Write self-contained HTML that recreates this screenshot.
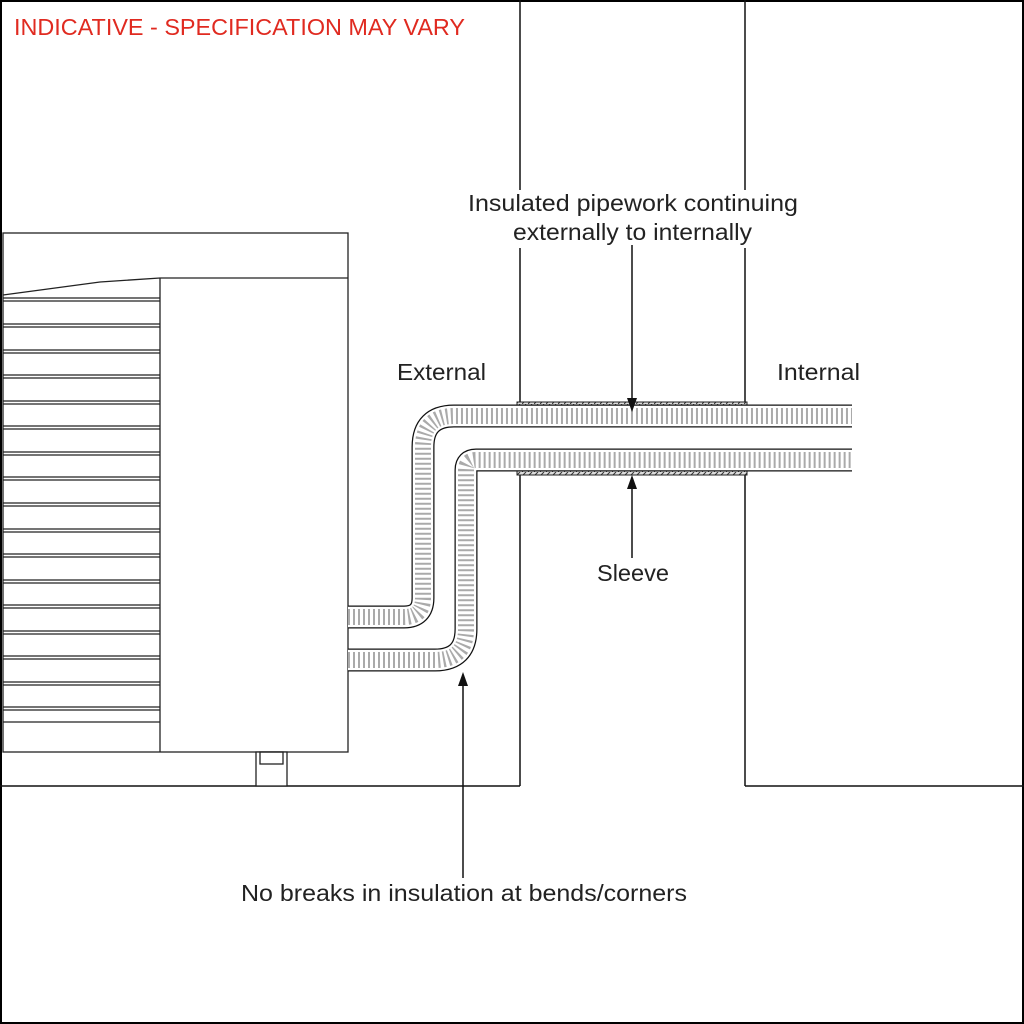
<!DOCTYPE html>
<html><head><style>
html,body{margin:0;padding:0;background:#fff}
svg{display:block}
text{font-family:"Liberation Sans",sans-serif;font-size:23px;fill:#222}
</style></head><body>
<svg width="1024" height="1024" viewBox="0 0 1024 1024" xmlns="http://www.w3.org/2000/svg">
<defs>
<pattern id="hatch" width="6" height="4" patternUnits="userSpaceOnUse">
<rect width="6" height="4" fill="#ddd"/>
<line x1="0" y1="4" x2="4" y2="0" stroke="#333" stroke-width="1"/>
</pattern>
</defs>
<rect x="1" y="1" width="1022" height="1022" fill="#fff" stroke="#000" stroke-width="2"/>
<text x="14" y="35" style="fill:#e02a20" textLength="451" lengthAdjust="spacingAndGlyphs">INDICATIVE - SPECIFICATION MAY VARY</text>

<g stroke="#111" stroke-width="1.5" fill="none">
<line x1="520" y1="0" x2="520" y2="190"/>
<line x1="745" y1="0" x2="745" y2="190"/>
<line x1="520" y1="248" x2="520" y2="403"/>
<line x1="745" y1="248" x2="745" y2="403"/>
<line x1="520" y1="473" x2="520" y2="786"/>
<line x1="745" y1="473" x2="745" y2="786"/>
<line x1="0" y1="786" x2="520" y2="786"/>
<line x1="745" y1="786" x2="1024" y2="786"/>
</g>
<rect x="517" y="402" width="230" height="4" fill="url(#hatch)" stroke="#222" stroke-width="1"/>
<rect x="517" y="471" width="230" height="4" fill="url(#hatch)" stroke="#222" stroke-width="1"/>

<g stroke="#222" stroke-width="1.3" fill="#fff">
<rect x="3" y="233" width="345" height="519"/>
<rect x="256" y="752" width="31" height="34"/>
<rect x="260" y="752" width="23" height="12" fill="none"/>
</g>
<g stroke="#222" stroke-width="1.3" fill="none">
<polyline points="3,295 100,282 160,278 348,278"/>
<line x1="160" y1="278" x2="160" y2="752"/>
<line x1="3" y1="298" x2="160" y2="298"/>
<line x1="3" y1="722" x2="160" y2="722"/>
<path d="M3 301H160M3 324H160M3 327H160M3 350H160M3 353H160M3 375H160M3 378H160M3 401H160M3 404H160M3 426H160M3 429H160M3 452H160M3 455H160M3 477H160M3 480H160M3 503H160M3 506H160M3 529H160M3 532H160M3 554H160M3 557H160M3 580H160M3 583H160M3 605H160M3 608H160M3 631H160M3 634H160M3 656H160M3 659H160M3 682H160M3 685H160M3 707H160M3 710H160"/>
</g>

<g fill="none">
<path d="M348 617 H404 Q423 617 423 598 V447 Q423 416 454 416 H852" stroke="#111" stroke-width="23"/>
<path d="M348 617 H404 Q423 617 423 598 V447 Q423 416 454 416 H852" stroke="#fff" stroke-width="20.5"/>
<path d="M348 617 H404 Q423 617 423 598 V447 Q423 416 454 416 H852" stroke="#aaa" stroke-width="16" stroke-dasharray="2 3"/>
<path d="M348 660 H435 Q466 660 466 629 V470 Q466 460 476 460 H852" stroke="#111" stroke-width="23"/>
<path d="M348 660 H435 Q466 660 466 629 V470 Q466 460 476 460 H852" stroke="#fff" stroke-width="20.5"/>
<path d="M348 660 H435 Q466 660 466 629 V470 Q466 460 476 460 H852" stroke="#aaa" stroke-width="16" stroke-dasharray="2 3"/>
</g>
<rect x="853" y="400" width="169" height="80" fill="#fff"/>

<g stroke="#111" stroke-width="1.5">
<line x1="632" y1="245" x2="632" y2="400"/>
<line x1="632" y1="485" x2="632" y2="558"/>
<line x1="463" y1="685" x2="463" y2="878"/>
</g>
<g fill="#111">
<polygon points="627,398 637,398 632,412"/>
<polygon points="627,489 637,489 632,475"/>
<polygon points="458,686 468,686 463,672"/>
</g>

<text x="468" y="211" textLength="330" lengthAdjust="spacingAndGlyphs">Insulated pipework continuing</text>
<text x="513" y="240" textLength="239" lengthAdjust="spacingAndGlyphs">externally to internally</text>
<text x="397" y="380" textLength="89" lengthAdjust="spacingAndGlyphs">External</text>
<text x="777" y="380" textLength="83" lengthAdjust="spacingAndGlyphs">Internal</text>
<text x="597" y="581" textLength="72" lengthAdjust="spacingAndGlyphs">Sleeve</text>
<text x="241" y="901" textLength="446" lengthAdjust="spacingAndGlyphs">No breaks in insulation at bends/corners</text>
</svg>
</body></html>
